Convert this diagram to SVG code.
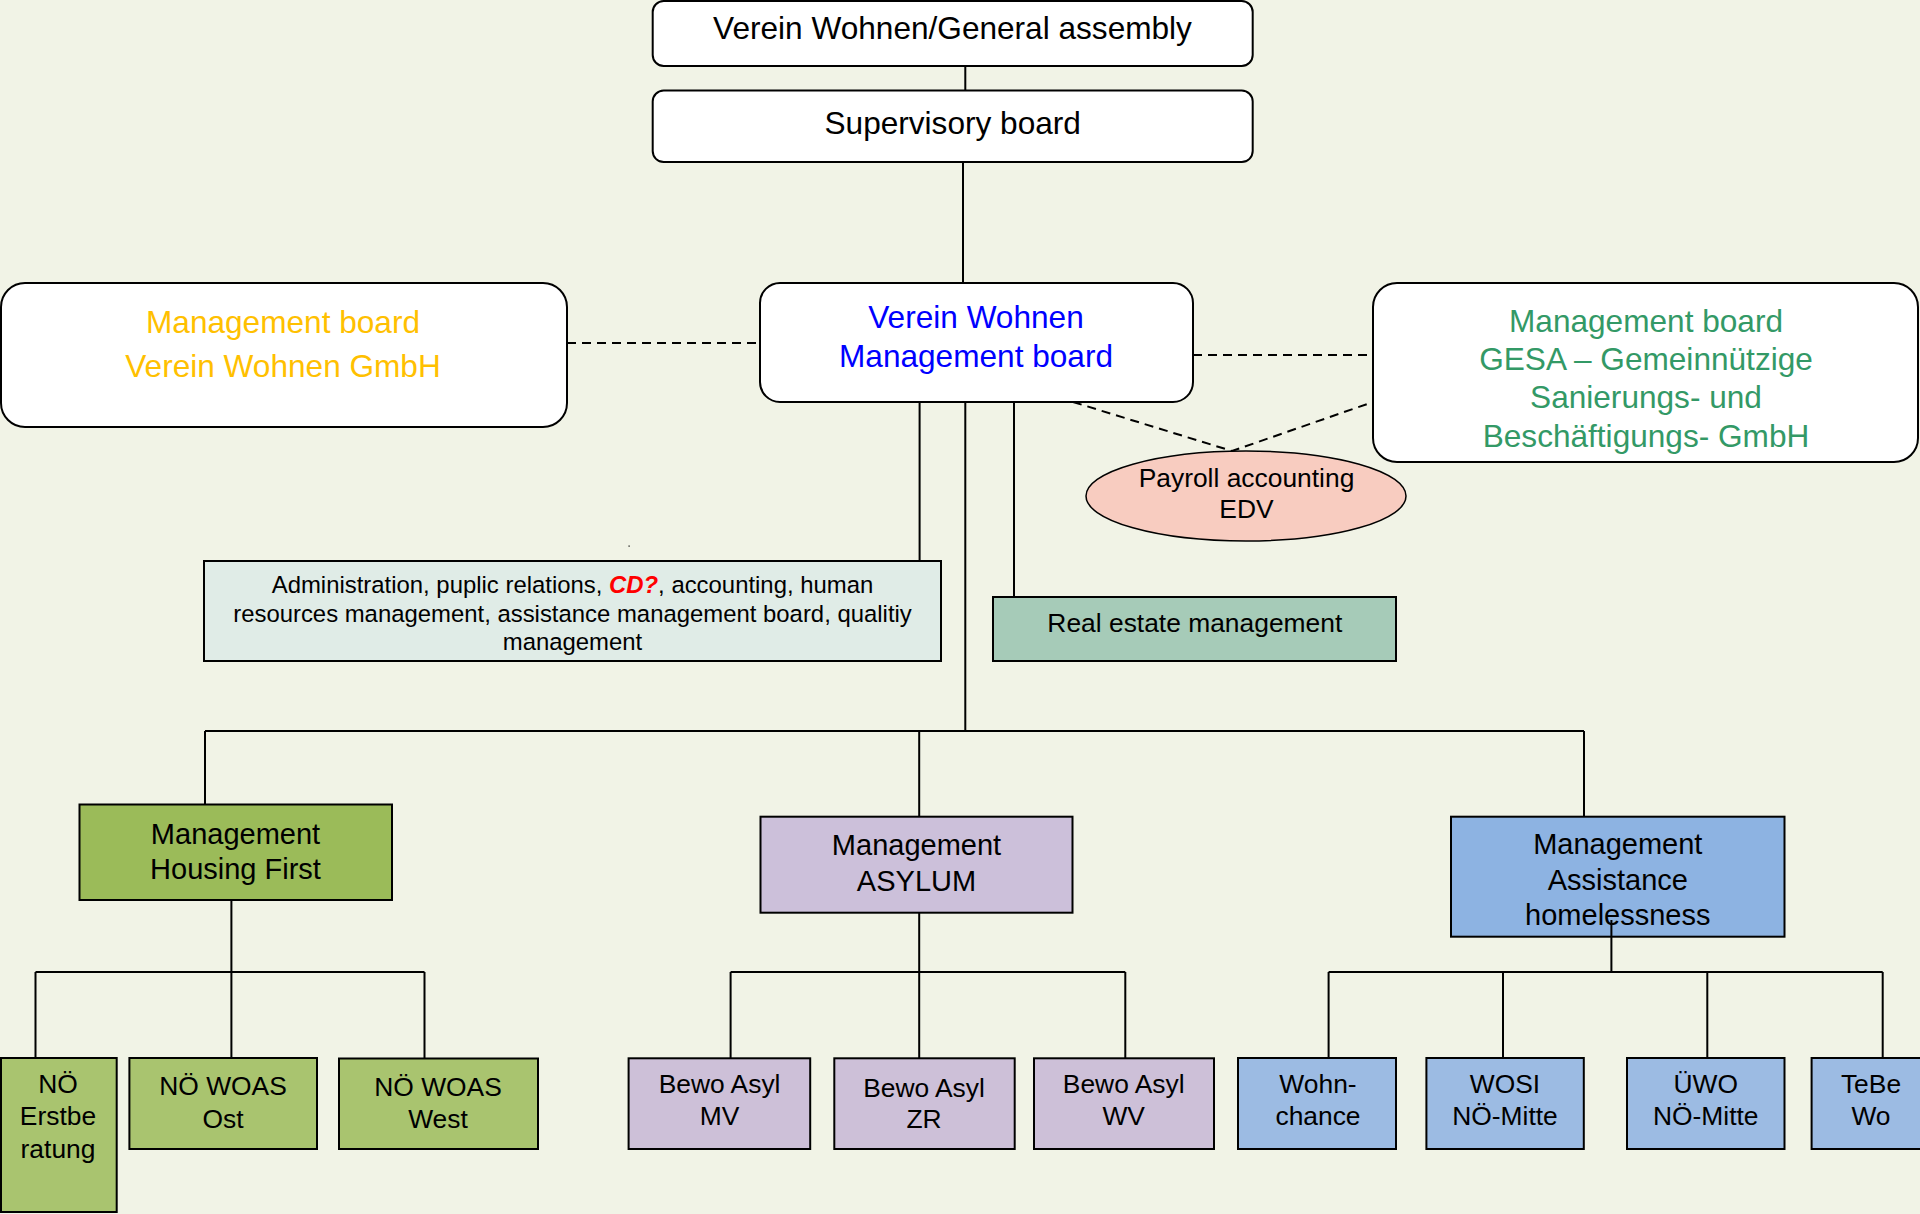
<svg xmlns="http://www.w3.org/2000/svg" width="1920" height="1214" viewBox="0 0 1920 1214">
<style>
text{font-family:"Liberation Sans",Arial,sans-serif;text-anchor:middle;fill:#000}
.box{stroke:#000;stroke-width:2}
.w{fill:#fff}
.big{font-size:31.6px}
.mid{font-size:29px}
.sm{font-size:26.4px}
.adm{font-size:23.9px}
.ln{stroke:#000;stroke-width:2;fill:none}
.dash{stroke:#000;stroke-width:2;fill:none;stroke-dasharray:9 6}
.hf{fill:#9BBB59}.hfs{fill:#A9C46F}
.as{fill:#CCC0DA}.ass{fill:#CDC0D8}
.ah{fill:#8DB3E2}.ahs{fill:#9CBBE3}
</style>
<rect width="1920" height="1214" fill="#F1F3E6"/>

<g id="general-assembly">
<rect class="box w" x="652.7" y="1" width="600" height="65" rx="11"/>
<text class="big" x="952.5" y="39">Verein Wohnen/General assembly</text>
</g>
<g id="supervisory-board">
<rect class="box w" x="652.7" y="90.6" width="600" height="71.5" rx="11"/>
<text class="big" x="952.7" y="134">Supervisory board</text>
</g>
<g id="vw-management-board">
<rect class="box w" x="760" y="283" width="433" height="119" rx="20"/>
<text class="big" x="976" y="328" style="fill:#0000FF">Verein Wohnen</text>
<text class="big" x="976" y="367" style="fill:#0000FF">Management board</text>
</g>
<g id="vw-gmbh-board">
<rect class="box w" x="1" y="283" width="566" height="144" rx="24"/>
<text class="big" x="283" y="333" style="fill:#FFC000">Management board</text>
<text class="big" x="283" y="377" style="fill:#FFC000">Verein Wohnen GmbH</text>
</g>
<g id="gesa-board">
<rect class="box w" x="1373" y="283" width="545" height="179" rx="24"/>
<text class="big" x="1646" y="332" style="fill:#339966">Management board</text>
<text class="big" x="1646" y="370" style="fill:#339966">GESA – Gemeinnützige</text>
<text class="big" x="1646" y="408" style="fill:#339966">Sanierungs- und</text>
<text class="big" x="1646" y="447" style="fill:#339966">Beschäftigungs- GmbH</text>
</g>
<g id="payroll">
<ellipse class="box" cx="1246" cy="496" rx="160" ry="45" fill="#F8CCC0" style="stroke-width:1.5"/>
<text class="sm" x="1246.5" y="487">Payroll accounting</text>
<text class="sm" x="1246.5" y="518">EDV</text>
</g>
<g id="administration">
<rect class="box" x="204" y="561" width="737" height="100" fill="#E0ECE7"/>
<text class="adm" x="572.5" y="593">Administration, puplic relations, <tspan style="fill:#FF0000;font-weight:bold;font-style:italic">CD?</tspan>, accounting, human</text>
<text class="adm" x="572.5" y="622">resources management, assistance management board, qualitiy</text>
<text class="adm" x="572.5" y="650">management</text>
</g>
<rect x="628.5" y="545.5" width="1.2" height="1.2" fill="#000"/>
<g id="real-estate">
<rect class="box" x="993" y="597" width="403" height="64" fill="#A6CBB8"/>
<text class="sm" x="1194.8" y="632">Real estate management</text>
</g>

<g id="mgmt-housing-first">
<rect class="box hf" x="79.5" y="804.5" width="312.5" height="95.5"/>
<text class="mid" x="235.5" y="843.5">Management</text>
<text class="mid" x="235.5" y="878.5">Housing First</text>
</g>
<g id="mgmt-asylum">
<rect class="box as" x="760.5" y="816.7" width="312" height="96"/>
<text class="mid" x="916.5" y="855">Management</text>
<text class="mid" x="916.5" y="890.7">ASYLUM</text>
</g>
<g id="mgmt-assistance">
<rect class="box ah" x="1451" y="816.7" width="333.5" height="120"/>
<text class="mid" x="1617.8" y="854">Management</text>
<text class="mid" x="1617.8" y="890">Assistance</text>
<text class="mid" x="1617.8" y="925">homelessness</text>
</g>

<g id="noe-erstberatung">
<rect class="box hfs" x="1" y="1058" width="115.7" height="154"/>
<text class="sm" x="58" y="1093">NÖ</text>
<text class="sm" x="58" y="1125">Erstbe</text>
<text class="sm" x="58" y="1158">ratung</text>
</g>
<g id="noe-woas-ost">
<rect class="box hfs" x="129.4" y="1058" width="187.6" height="91"/>
<text class="sm" x="223" y="1095">NÖ WOAS</text>
<text class="sm" x="223" y="1127.7">Ost</text>
</g>
<g id="noe-woas-west">
<rect class="box hfs" x="339" y="1058.5" width="199" height="90.5"/>
<text class="sm" x="438" y="1095.7">NÖ WOAS</text>
<text class="sm" x="438" y="1127.7">West</text>
</g>
<g id="bewo-asyl-mv">
<rect class="box ass" x="628.6" y="1058.3" width="181.6" height="90.7"/>
<text class="sm" x="719.6" y="1093.3">Bewo Asyl</text>
<text class="sm" x="719.6" y="1125">MV</text>
</g>
<g id="bewo-asyl-zr">
<rect class="box ass" x="834.3" y="1058.3" width="180.4" height="90.7"/>
<text class="sm" x="924" y="1096.7">Bewo Asyl</text>
<text class="sm" x="924" y="1128.3">ZR</text>
</g>
<g id="bewo-asyl-wv">
<rect class="box ass" x="1034" y="1058.3" width="180" height="90.7"/>
<text class="sm" x="1123.7" y="1093.3">Bewo Asyl</text>
<text class="sm" x="1123.7" y="1125">WV</text>
</g>
<g id="wohnchance">
<rect class="box ahs" x="1238" y="1058" width="158" height="91"/>
<text class="sm" x="1318" y="1093.3">Wohn-</text>
<text class="sm" x="1318" y="1125">chance</text>
</g>
<g id="wosi">
<rect class="box ahs" x="1426.4" y="1058" width="157.4" height="91"/>
<text class="sm" x="1505" y="1093.3">WOSI</text>
<text class="sm" x="1505" y="1125">NÖ-Mitte</text>
</g>
<g id="uewo">
<rect class="box ahs" x="1627" y="1058" width="157.5" height="91"/>
<text class="sm" x="1705.7" y="1093.3">ÜWO</text>
<text class="sm" x="1705.7" y="1125">NÖ-Mitte</text>
</g>
<g id="tebewo">
<rect class="box ahs" x="1811.6" y="1058" width="130" height="91"/>
<text class="sm" x="1871" y="1093.3">TeBe</text>
<text class="sm" x="1871" y="1125">Wo</text>
</g>

<g id="connectors">
<path class="ln" d="M965.3,66 V90.6 M963,162 V283"/>
<path class="dash" d="M567,343 H760 M1193,355 H1373 M1073,402 L1232,451 L1373,402"/>
<path class="ln" d="M919.6,402 V561 M965.3,402 V731 M1014,402 V597"/>
<path class="ln" d="M205,731 H1584 M205,731 V804.5 M919.2,731 V816.7 M1584,731 V816.7"/>
<path class="ln" d="M231.4,900 V972 M35.5,972 H424.5 M35.5,972 V1058 M231.4,972 V1058 M424.5,972 V1058"/>
<path class="ln" d="M919.2,912.7 V972 M730.6,972 H1125.3 M730.6,972 V1058 M919.2,972 V1058 M1125.3,972 V1058"/>
<path class="ln" d="M1611.4,920 V972 M1328.6,972 H1882.7 M1328.6,972 V1058 M1503,972 V1058 M1707.3,972 V1058 M1882.7,972 V1058"/>
</g>
</svg>
